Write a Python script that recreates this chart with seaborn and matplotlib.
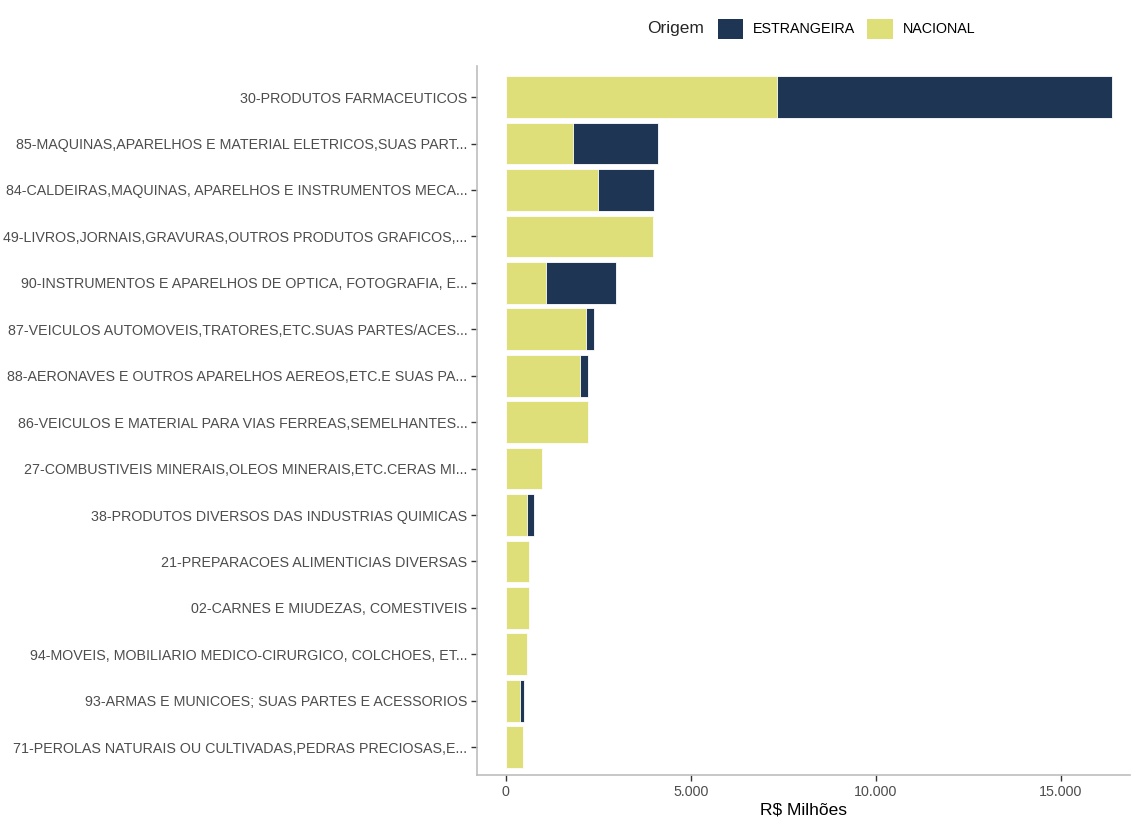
import matplotlib
matplotlib.use("Agg")
import matplotlib.pyplot as plt
import numpy as np
import pandas as pd
import seaborn as sns
from matplotlib.patches import Patch

# values in R$ milhões
categorias = [
    "30-PRODUTOS FARMACEUTICOS",
    "85-MAQUINAS,APARELHOS E MATERIAL ELETRICOS,SUAS PART...",
    "84-CALDEIRAS,MAQUINAS, APARELHOS E INSTRUMENTOS MECA...",
    "49-LIVROS,JORNAIS,GRAVURAS,OUTROS PRODUTOS GRAFICOS,...",
    "90-INSTRUMENTOS E APARELHOS DE OPTICA, FOTOGRAFIA, E...",
    "87-VEICULOS AUTOMOVEIS,TRATORES,ETC.SUAS PARTES/ACES...",
    "88-AERONAVES E OUTROS APARELHOS AEREOS,ETC.E SUAS PA...",
    "86-VEICULOS E MATERIAL PARA VIAS FERREAS,SEMELHANTES...",
    "27-COMBUSTIVEIS MINERAIS,OLEOS MINERAIS,ETC.CERAS MI...",
    "38-PRODUTOS DIVERSOS DAS INDUSTRIAS QUIMICAS",
    "21-PREPARACOES ALIMENTICIAS DIVERSAS",
    "02-CARNES E MIUDEZAS, COMESTIVEIS",
    "94-MOVEIS, MOBILIARIO MEDICO-CIRURGICO, COLCHOES, ET...",
    "93-ARMAS E MUNICOES; SUAS PARTES E ACESSORIOS",
    "71-PEROLAS NATURAIS OU CULTIVADAS,PEDRAS PRECIOSAS,E...",
]
nacional = [7320, 1810, 2490, 3970, 1080, 2160, 2000, 2220, 970, 560, 620, 620, 560, 370, 460]
estrangeira = [9060, 2300, 1510, 0, 1890, 220, 220, 0, 0, 200, 0, 0, 0, 130, 0]

COR_EST = "#1E3553"
COR_NAC = "#DFDF7A"
TXT = "#4D4D4D"

df = pd.DataFrame({
    "categoria": categorias,
    "nacional": nacional,
    "total": np.array(nacional) + np.array(estrangeira),
})

sns.set_style("white")
plt.rcParams["font.family"] = ["Liberation Sans", "DejaVu Sans"]

fig = plt.figure(figsize=(11.32, 8.19), dpi=100)
ax = fig.add_axes([0.4214, 0.0537, 0.5769, 0.8657])

# stacked look: total bar first, nacional drawn over it
sns.barplot(data=df, x="total", y="categoria", color=COR_EST, width=0.9,
            saturation=1, edgecolor="white", linewidth=0.6, ax=ax)
sns.barplot(data=df, x="nacional", y="categoria", color=COR_NAC, width=0.9,
            saturation=1, edgecolor="white", linewidth=0.6, ax=ax)

ax.set_xlim(-780, 16880)
ax.set_ylim(len(categorias) - 0.4, -0.67)
ax.set_xticks([0, 5000, 10000, 15000])
ax.set_xticklabels(["0", "5.000", "10.000", "15.000"])
ax.set_xlabel("R$ Milhões", fontsize=12.5, color="black", labelpad=3)
ax.set_ylabel("")

for side in ["top", "right"]:
    ax.spines[side].set_visible(False)
for side in ["left", "bottom"]:
    ax.spines[side].set_color("#BEBEBE")
    ax.spines[side].set_linewidth(1.2)
ax.tick_params(axis="both", length=4, width=1, color="#333333",
               labelsize=10.3, labelcolor=TXT, pad=3, left=True, bottom=True)

handles = [Patch(facecolor=COR_EST, edgecolor="none", label="ESTRANGEIRA"),
           Patch(facecolor=COR_NAC, edgecolor="none", label="NACIONAL")]
fig.legend(handles=handles, loc="center left", bbox_to_anchor=(0.6225, 0.965),
           ncol=2, frameon=False, fontsize=10.3, handlelength=1.8,
           handleheight=1.8, handletextpad=0.7, columnspacing=0.8,
           labelcolor="black")
fig.text(0.572, 0.965, "Origem", fontsize=12.5, va="center", ha="left")

fig.savefig("out.png", dpi=100)
